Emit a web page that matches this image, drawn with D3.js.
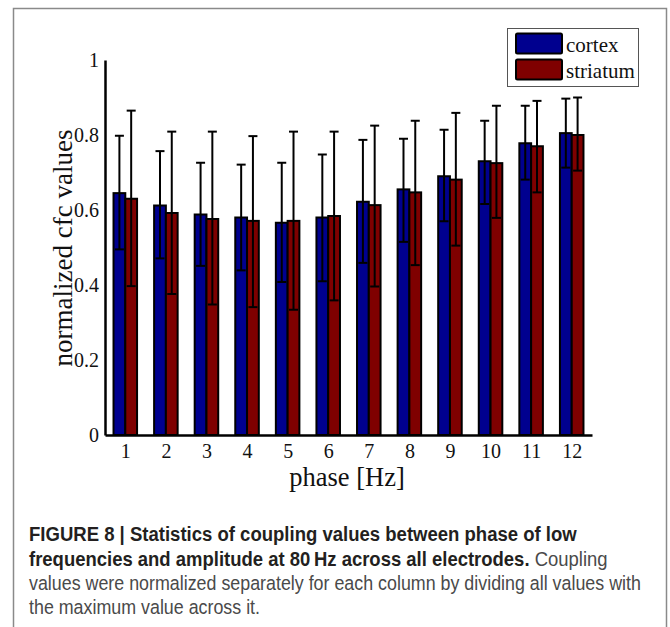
<!DOCTYPE html>
<html>
<head>
<meta charset="utf-8">
<script src="https://cdn.jsdelivr.net/npm/d3@7"></script>
<style>
  body { margin: 0; background: #fff; }
  svg { display: block; }
</style>
</head>
<body>
<script>
// data
var phases = [1, 2, 3, 4, 5, 6, 7, 8, 9, 10, 11, 12];
var seriesNames = ["cortex", "striatum"];
var cortexMean = [0.645, 0.612, 0.588, 0.580, 0.566, 0.580, 0.622, 0.655, 0.690, 0.730, 0.778, 0.805];
var cortexHigh = [0.798, 0.757, 0.726, 0.721, 0.726, 0.748, 0.787, 0.790, 0.814, 0.838, 0.878, 0.897];
var cortexLow = [0.495, 0.471, 0.451, 0.439, 0.408, 0.410, 0.459, 0.515, 0.570, 0.616, 0.681, 0.713];
var striatumMean = [0.630, 0.592, 0.576, 0.571, 0.571, 0.584, 0.613, 0.647, 0.681, 0.725, 0.770, 0.800];
var striatumHigh = [0.865, 0.809, 0.809, 0.797, 0.809, 0.809, 0.825, 0.838, 0.859, 0.878, 0.891, 0.900];
var striatumLow = [0.397, 0.376, 0.348, 0.341, 0.334, 0.359, 0.396, 0.453, 0.505, 0.579, 0.647, 0.705];
var yTicks = [0, 0.2, 0.4, 0.6, 0.8, 1];
var xLabel = "phase [Hz]";
var yLabel = "normalized cfc values";
var captionBold = ["FIGURE 8 | Statistics of coupling values between phase of low",
                   "frequencies and amplitude at 80\u2009Hz across all electrodes."];
var captionPlain = ["", " Coupling",
                    "values were normalized separately for each column by dividing all values with",
                    "the maximum value across it."];

(function () {
    var colors = ["#00008f", "#7f0000"];
    var W = 670, H = 627;
    var m = {left: 105, right: 592, top: 60, bottom: 435};

    var svg = d3.select("body").append("svg")
        .attr("width", W)
        .attr("height", H);

    // outer frame of the figure panel
    svg.append("rect")
        .attr("x", 13.5).attr("y", 8.5)
        .attr("width", 653).attr("height", 660)
        .attr("fill", "none")
        .attr("stroke", "#8a8a8a")
        .attr("stroke-width", 1.5);

    var x = d3.scaleLinear().domain([0.5, 12.5]).range([m.left, m.right]);
    var y = d3.scaleLinear().domain([0, 1]).range([m.bottom, m.top]);
    var step = x(2) - x(1);
    var barW = step * 0.29;

    var flat = [];
    phases.forEach(function (p, i) {
        flat.push({phase: p, k: 0, mean: cortexMean[i], lo: cortexLow[i], hi: cortexHigh[i]});
        flat.push({phase: p, k: 1, mean: striatumMean[i], lo: striatumLow[i], hi: striatumHigh[i]});
    });
    function cx(d) { return x(d.phase) - barW / 2 + d.k * barW; }

    var plot = svg.append("g");

    plot.selectAll(".bar").data(flat).enter().append("rect")
        .attr("class", "bar")
        .attr("x", function (d) { return cx(d) - barW / 2; })
        .attr("y", function (d) { return y(d.mean); })
        .attr("width", barW)
        .attr("height", function (d) { return y(0) - y(d.mean); })
        .attr("fill", function (d) { return colors[d.k]; })
        .attr("stroke", "#000")
        .attr("stroke-width", 2);

    // error bars
    var cap = 4.5;
    var err = plot.selectAll(".err").data(flat).enter().append("g")
        .attr("class", "err")
        .attr("stroke", "#000")
        .attr("stroke-width", 2);
    err.append("line")
        .attr("x1", cx).attr("x2", cx)
        .attr("y1", function (d) { return y(d.lo); })
        .attr("y2", function (d) { return y(d.hi); });
    ["lo", "hi"].forEach(function (key) {
        err.append("line")
            .attr("x1", function (d) { return cx(d) - cap; })
            .attr("x2", function (d) { return cx(d) + cap; })
            .attr("y1", function (d) { return y(d[key]); })
            .attr("y2", function (d) { return y(d[key]); });
    });

    // axes, MATLAB style: no tick marks, thick lines
    var serif = "'Liberation Serif', 'Times New Roman', serif";
    var yAxis = d3.axisLeft(y).tickValues(yTicks).tickSize(0).tickPadding(6)
        .tickFormat(d3.format("~g"));
    var xAxis = d3.axisBottom(x).tickValues(phases).tickSize(0).tickPadding(9);

    var gy = svg.append("g").attr("transform", "translate(" + m.left + ",0)").call(yAxis);
    var gx = svg.append("g").attr("transform", "translate(0," + m.bottom + ")").call(xAxis);
    [gx, gy].forEach(function (g) {
        g.select(".domain").attr("stroke", "#000").attr("stroke-width", 2.5);
        g.selectAll("text").attr("font-family", serif).attr("font-size", 20).attr("fill", "#111");
    });

    svg.append("text")
        .attr("x", 347).attr("y", 486)
        .attr("text-anchor", "middle")
        .attr("font-family", serif).attr("font-size", 26.5)
        .attr("fill", "#111")
        .text(xLabel);

    svg.append("text")
        .attr("transform", "translate(72,248) rotate(-90)")
        .attr("text-anchor", "middle")
        .attr("font-family", serif).attr("font-size", 27)
        .attr("fill", "#111")
        .text(yLabel);

    // legend
    var lg = svg.append("g").attr("transform", "translate(507,28)");
    lg.append("rect")
        .attr("x", 0.5).attr("y", 0.5).attr("width", 131).attr("height", 58)
        .attr("fill", "#fff").attr("stroke", "#555").attr("stroke-width", 1);
    seriesNames.forEach(function (name, i) {
        lg.append("rect")
            .attr("x", 9).attr("y", 5.5 + i * 26)
            .attr("width", 46).attr("height", 20)
            .attr("rx", 1.5)
            .attr("fill", colors[i]).attr("stroke", "#000").attr("stroke-width", 2);
        lg.append("text")
            .attr("x", 59).attr("y", 24 + i * 26)
            .attr("font-family", serif).attr("font-size", 21)
            .attr("fill", "#111")
            .text(name);
    });

    // caption, each line squeezed to its printed width
    var sans = "'Liberation Sans', Arial, Helvetica, sans-serif";
    var lineY = [541, 566, 590, 614];
    var lineEnd = [577, 608, 641, null];
    var lastScale = 1;
    lineY.forEach(function (by, i) {
        var g = svg.append("g");
        var t = g.append("text")
            .attr("x", 0).attr("y", 0)
            .attr("font-family", sans).attr("font-size", 19.5);
        if (captionBold[i]) {
            t.append("tspan").attr("font-weight", "bold").attr("fill", "#231f20").text(captionBold[i]);
        }
        if (captionPlain[i]) {
            t.append("tspan").attr("fill", "#4a4a4a").text(captionPlain[i]);
        }
        var s = lineEnd[i] ? (lineEnd[i] - 29) / t.node().getComputedTextLength() : lastScale;
        lastScale = s;
        g.attr("transform", "translate(29," + by + ") scale(" + s + ",1)");
    });
})();
</script>
</body>
</html>
